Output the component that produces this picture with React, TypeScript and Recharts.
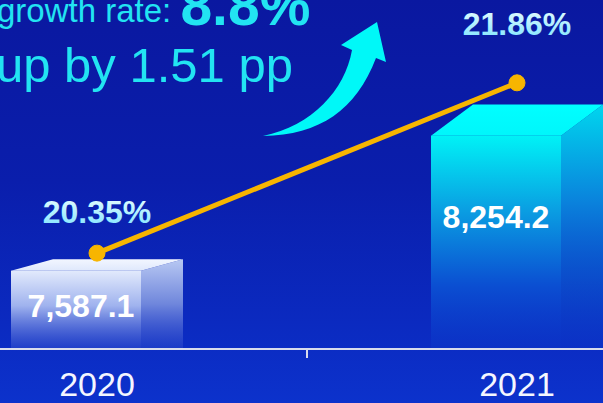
import { ComposedChart, Bar, Line, XAxis, YAxis, LabelList } from 'recharts';

// values
const years = ['2020', '2021'];
const revenue = [7587.1, 8254.2];
const shareRate = [20.35, 21.86];
const growthRate = '8.8%';
const rateChange = '1.51';

const data = years.map((year, i) => ({ year, revenue: revenue[i], rate: shareRate[i] }));

const W = 603;
const H = 403;
const CHART_W = 840; // wider than the view, the picture is a crop
const SHIFT = -113;
const BAND = CHART_W / years.length;
const AXIS_Y = 349;
const DEPTH = 42;
const FONT = '"Liberation Sans", Arial, Helvetica, sans-serif';

const barLabelPos = [0.45, 0.38];
const rateLabelGap = [41, 59];

function CubeBar(props: any) {
  const { x, y, width, height, index } = props;
  const lift = height * 0.146;
  const fw = width - DEPTH;
  const p = index === 0 ? 'w' : 'c';
  return (
    <g>
      <rect x={x} y={y} width={fw} height={height} fill={`url(#${p}Front)`} />
      <polygon
        points={`${x + fw},${y} ${x + width},${y - lift} ${x + width},${y + height} ${x + fw},${y + height}`}
        fill={`url(#${p}Side)`}
      />
      <polygon
        points={`${x},${y} ${x + DEPTH},${y - lift} ${x + width},${y - lift} ${x + fw},${y}`}
        fill={`url(#${p}Top)`}
      />
    </g>
  );
}

function BarValue(props: any) {
  const { x, y, width, height, value, index } = props;
  return (
    <text
      x={x + (width - DEPTH) / 2 + (index === 0 ? 5 : 0)}
      y={y + height * barLabelPos[index]}
      textAnchor="middle"
      dominantBaseline="central"
      fill="#ffffff"
      fontFamily={FONT}
      fontWeight="bold"
      fontSize={32}
    >
      {Number(value).toLocaleString('en-US', { minimumFractionDigits: 1 })}
    </text>
  );
}

function RateValue(props: any) {
  const { x, y, value, index } = props;
  return (
    <text
      x={x}
      y={y - rateLabelGap[index]}
      textAnchor="middle"
      dominantBaseline="central"
      fill="url(#rateText)"
      fontFamily={FONT}
      fontWeight="bold"
      fontSize={32}
    >
      {Number(value).toFixed(2)}%
    </text>
  );
}

function YearTick({ x, payload, index }: any) {
  return (
    <g>
      {index === 0 && (
        <line x1={x + BAND / 2} y1={AXIS_Y} x2={x + BAND / 2} y2={AXIS_Y + 9} stroke="#d8dcec" strokeWidth={2} />
      )}
      <text
        x={x}
        y={AXIS_Y + 35}
        textAnchor="middle"
        dominantBaseline="central"
        fill="#f4f6ff"
        fontFamily={FONT}
        fontSize={34}
      >
        {payload.value}
      </text>
    </g>
  );
}

export default function App() {
  return (
    <div
      style={{
        position: 'fixed',
        left: 0,
        top: 0,
        width: W,
        height: H,
        overflow: 'hidden',
        background: 'linear-gradient(180deg, #0a18a0 0%, #0a1eac 45%, #0b2ac0 80%, #0c32cc 100%)',
      }}
    >
      <svg width={W} height={H} style={{ position: 'absolute', left: 0, top: 0 }}>
        <defs>
          <linearGradient id="wFront" x1="0" y1="0" x2="0" y2="1">
            <stop offset="0%" stopColor="#e2eafc" />
            <stop offset="45%" stopColor="#9fb2ee" />
            <stop offset="100%" stopColor="#2a48cc" stopOpacity={0.6} />
          </linearGradient>
          <linearGradient id="wSide" x1="0" y1="0" x2="0" y2="1">
            <stop offset="0%" stopColor="#b8c8f2" />
            <stop offset="50%" stopColor="#6f86dc" />
            <stop offset="100%" stopColor="#2a48cc" stopOpacity={0.5} />
          </linearGradient>
          <linearGradient id="wTop" x1="0" y1="0" x2="0" y2="1">
            <stop offset="0%" stopColor="#f2f6ff" />
            <stop offset="100%" stopColor="#dfe8fc" />
          </linearGradient>
          <linearGradient id="cFront" x1="0" y1="0" x2="0" y2="1">
            <stop offset="0%" stopColor="#00f2f6" />
            <stop offset="35%" stopColor="#0a9ee2" />
            <stop offset="70%" stopColor="#0b4fd2" />
            <stop offset="100%" stopColor="#0c34c8" stopOpacity={0.6} />
          </linearGradient>
          <linearGradient id="cSide" x1="0" y1="0" x2="0" y2="1">
            <stop offset="0%" stopColor="#00d6ee" />
            <stop offset="40%" stopColor="#0a82dc" />
            <stop offset="100%" stopColor="#0c34c8" stopOpacity={0.5} />
          </linearGradient>
          <linearGradient id="cTop" x1="0" y1="0" x2="0" y2="1">
            <stop offset="0%" stopColor="#00ffff" />
            <stop offset="100%" stopColor="#00f6fb" />
          </linearGradient>
          <linearGradient id="rateText" x1="0" y1="0" x2="0" y2="1">
            <stop offset="0%" stopColor="#f0ffff" />
            <stop offset="100%" stopColor="#78e2ff" />
          </linearGradient>
        </defs>
      </svg>

      <div style={{ position: 'absolute', left: SHIFT, top: 0 }}>
        <ComposedChart width={CHART_W} height={H} data={data} margin={{ top: 5, right: 0, bottom: 0, left: 0 }}>
          <XAxis
            dataKey="year"
            height={H - AXIS_Y}
            axisLine={{ stroke: '#d8dcec', strokeWidth: 2 }}
            tickLine={false}
            tick={<YearTick />}
            interval={0}
          />
          <YAxis yAxisId="rev" hide domain={[7200, 8900]} />
          <YAxis yAxisId="rate" hide orientation="right" domain={[19.5, 22.55]} />
          <Bar yAxisId="rev" dataKey="revenue" barSize={172} shape={<CubeBar />} isAnimationActive={false}>
            <LabelList dataKey="revenue" content={<BarValue />} />
          </Bar>
          <Line
            yAxisId="rate"
            dataKey="rate"
            stroke="#f7b500"
            strokeWidth={5}
            dot={{ r: 8, fill: '#f7b500', stroke: '#f7b500', strokeWidth: 1 }}
            activeDot={false}
            isAnimationActive={false}
          >
            <LabelList dataKey="rate" content={<RateValue />} />
          </Line>
        </ComposedChart>
      </div>

      <svg width={W} height={H} style={{ position: 'absolute', left: 0, top: 0, pointerEvents: 'none' }}>
        <text x={-3} y={22} fill="#22e4f2" fontFamily={FONT} fontSize={33}>
          growth rate:{' '}
          <tspan fontWeight="bold" fontSize={57} dy={3}>
            {growthRate}
          </tspan>
        </text>
        <text x={-4} y={82} fill="#22e4f2" fontFamily={FONT} fontSize={49}>
          up by {rateChange} pp
        </text>
        <path
          d="M263,136 C320,135 356,110 376,58 L386,62 L377,22 L341,45 L352,50 C345,90 312,126 263,136 Z"
          fill="#00f8f8"
        />
      </svg>
    </div>
  );
}
